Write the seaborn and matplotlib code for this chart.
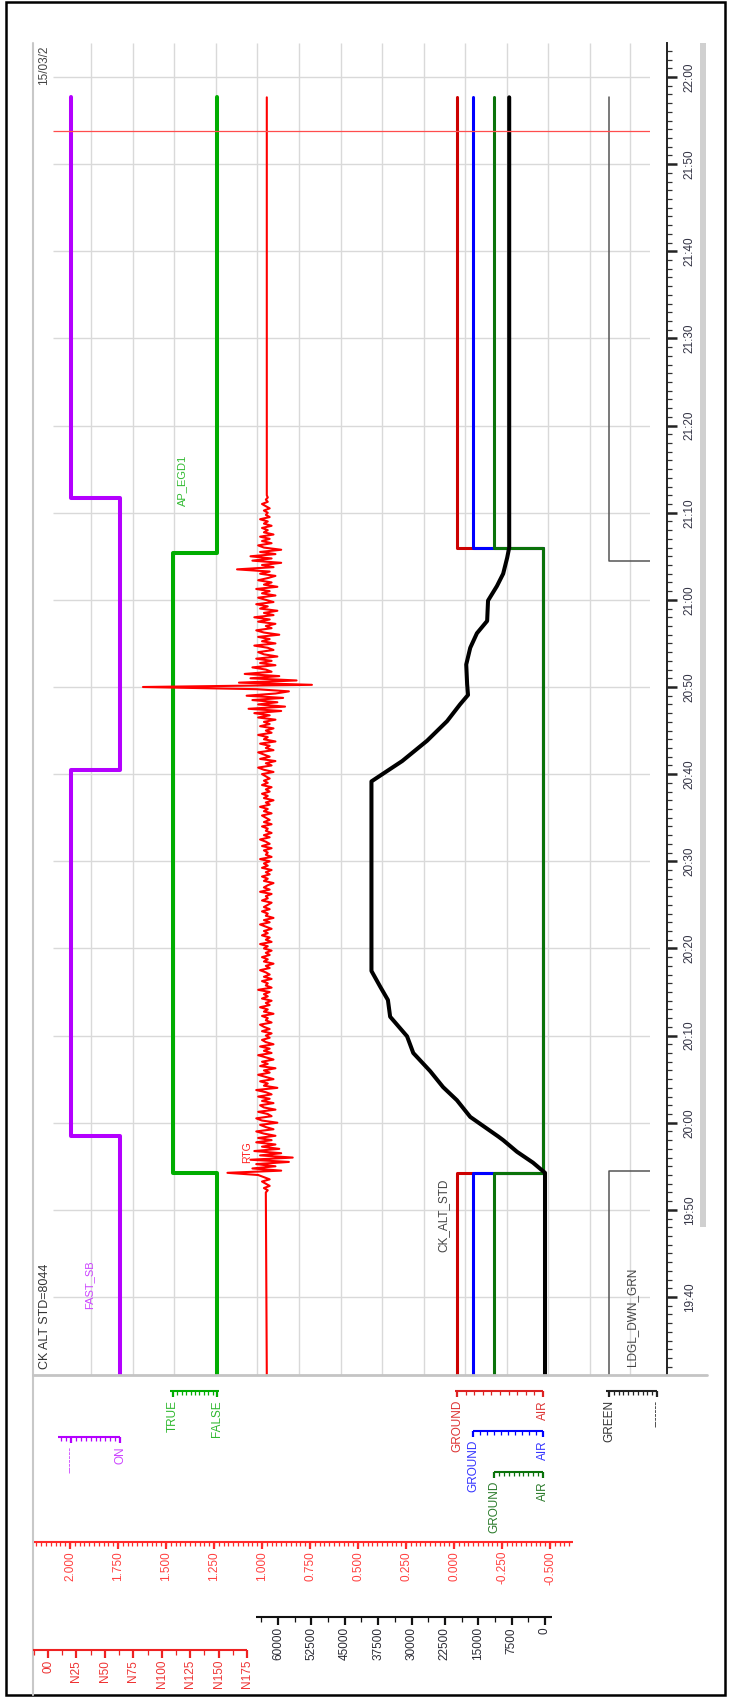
import numpy as np
import pandas as pd
import seaborn as sns
import matplotlib
matplotlib.use("Agg")
import matplotlib.pyplot as plt
from matplotlib.patches import Rectangle
from matplotlib.ticker import MultipleLocator

sns.set_theme(style="white")
plt.rcParams['font.family'] = ['Liberation Sans', 'DejaVu Sans']

#---------------------------------------------------------------- data
# state traces: value holds from each time to the next one
fast_sb_t = ["19:31:00", "19:58:30", "20:40:30", "21:11:40", "21:57:40"]
fast_sb_v = [1, 0, 1, 0, 0]          # 1 = ON

ap_egd1_t = ["19:31:00", "19:54:15", "21:05:20", "21:57:40"]
ap_egd1_v = [0, 1, 0, 0]              # 1 = TRUE

wow_t = ["19:31:00", "19:54:15", "21:06:00", "21:57:40"]
wow_red_v = [1, 0, 1, 1]              # 1 = GROUND
wow_blue_v = [1, 0, 1, 1]
wow_green_v = [1, 0, 1, 1]

ldg_t = ["19:31:00", "19:54:25", "21:04:30", "21:57:40"]
ldg_v = [1, 0, 1, 1]                  # 1 = GREEN

# CK_ALT_STD (ft)
alt_t = ["19:31:00", "19:54:15", "19:55:25", "19:56:40", "19:58:00", "19:58:25",
         "20:00:40", "20:02:35", "20:04:05", "20:05:55", "20:08:00", "20:09:55",
         "20:12:10", "20:14:05", "20:15:35", "20:17:25", "20:39:10", "20:41:30",
         "20:43:50", "20:46:05", "20:48:00", "20:49:05", "20:50:20", "20:52:35",
         "20:54:30", "20:56:10", "20:57:35", "20:59:55", "21:01:35", "21:03:00",
         "21:04:50", "21:06:00", "21:57:40"]
alt_ft = [0, 0, 2700, 6300, 9400, 10500,
          16800, 19800, 22900, 25800, 29600, 31000,
          34800, 35300, 37000, 39000, 39000, 32100,
          26500, 22000, 19100, 17300, 17500, 17700,
          16800, 15300, 13000, 12800, 10800, 9400,
          8500, 8044, 8044]

# RTG, sampled every 15 s from 19:52:00, flat outside
rtg_first = "19:52:00"
rtg_ends = ["19:31:00", "21:57:40"]
rtg_base = 0.975
rtg_vals = [
    0.98, 0.97, 0.99, 0.96, 0.98, 1.00, 0.96, 0.99,
    1.02, 1.18, 0.90, 1.05, 0.93, 1.03, 0.86, 1.06, 0.84, 1.01, 0.90, 1.04, 0.91, 1.00, 0.93, 1.03,
    0.95, 1.02, 0.93, 0.99, 1.03, 0.94, 0.98, 1.01, 0.92, 1.00, 1.03, 0.95, 0.97, 1.02, 0.93, 0.99,
    1.01, 0.94, 1.00, 0.96, 1.02, 0.95, 0.98, 1.03, 0.92, 0.99, 0.97, 1.01, 0.94, 0.98, 1.02, 0.96,
    0.99, 0.93, 1.01, 0.97, 1.00, 0.94, 0.98, 1.02, 0.95, 0.99, 0.96, 1.01, 0.94, 0.98, 1.00, 0.96,
    0.98, 0.95, 1.00, 0.96, 0.99, 1.01, 0.95, 0.98, 0.97, 1.00, 0.94, 0.99, 0.97, 1.01, 0.96, 0.98,
    0.95, 1.00, 0.97, 0.99, 0.96, 1.02, 0.95, 0.98, 0.97, 1.00, 0.95, 0.99, 0.96, 0.98, 1.01, 0.96,
    0.98, 0.94, 0.99, 0.97, 1.00, 0.96, 0.98, 0.95, 0.99, 0.97, 1.01, 0.95, 0.98, 0.96, 1.00, 0.97,
    0.99, 0.95, 0.98, 1.01, 0.96, 0.99, 0.94, 0.98, 0.97, 1.00, 0.96, 0.99, 0.97, 0.95, 1.00, 0.97,
    0.98, 0.95, 1.01, 0.96, 0.99, 0.97, 0.94, 0.99, 0.97, 1.00, 0.96, 0.98, 0.95, 1.00, 0.97, 0.99,
    0.96, 1.01, 0.95, 0.98, 0.97, 0.99, 0.95, 1.00, 0.96, 0.98, 1.01, 0.96, 0.99, 0.95, 0.98, 0.97,
    1.00, 0.95, 0.99, 0.96, 0.98, 1.00, 0.95, 0.99, 0.97, 1.01, 0.96, 0.98, 0.94, 0.99, 0.97, 1.00,
    0.96, 0.98, 0.95, 1.00, 0.97, 0.99, 0.96, 0.98,
    1.00, 0.94, 0.99, 1.02, 0.95, 0.98, 0.93, 1.01, 0.96, 0.99, 1.02, 0.94, 0.98, 0.96, 1.01, 0.93,
    0.99, 0.97, 1.02, 0.95, 0.98, 0.94, 1.01, 0.96, 0.99, 0.93, 1.02, 0.96,
    1.04, 0.90, 1.07, 0.88, 1.02, 0.92, 1.05, 0.89, 1.08, 0.93, 0.86, 1.03, 1.62, 0.74, 1.12, 0.82,
    1.06, 0.91, 1.09, 0.95,
    0.98, 1.05, 0.93, 1.01, 0.95, 1.03, 0.92, 0.99, 1.02, 0.94, 0.97, 1.04, 0.93, 1.00, 0.96, 1.02,
    0.91, 0.99, 1.03, 0.95, 0.98, 0.93, 1.02, 0.96, 1.04, 0.94, 0.99, 0.92, 1.01, 0.97, 1.03, 0.94,
    0.98, 1.02, 0.93, 1.00, 0.96, 1.03, 0.92, 0.99, 0.95, 1.02, 0.97, 0.93, 1.01, 0.96, 1.13, 0.94,
    1.00, 0.90, 1.05, 0.95,
    1.06, 0.93, 1.01, 0.90, 0.99, 1.02, 0.95, 1.00, 0.96, 1.01, 0.94, 0.99, 0.97, 1.00, 0.95, 0.99,
    0.97, 1.01, 0.96, 0.98, 0.97, 0.99, 0.96, 0.98, 1.00, 0.97, 0.98, 0.97, 0.975]

cursor_t = "21:53:45"

# scale legends
rtg_ticks = [2.0, 1.75, 1.5, 1.25, 1.0, 0.75, 0.5, 0.25, 0.0, -0.25, -0.5]
alt_ticks = [60000, 52500, 45000, 37500, 30000, 22500, 15000, 7500, 0]
n_ticks = [0, 25, 50, 75, 100, 125, 150, 175]
n_labels = ["00", "N25", "N50", "N75", "N100", "N125", "N150", "N175"]

#---------------------------------------------------------------- layout
W, H = 731, 1700
PX_MIN = 1220 / 140.0                 # pixels per minute on time axis
T_TOP = 22 * 60 + 34 / PX_MIN         # time at y = 43 px
T_BOT = 22 * 60 - 1298 / PX_MIN       # time at y = 1375 px

def to_min(s):
    return np.asarray(pd.to_timedelta(s).total_seconds(), float) / 60.0

def lin(v, va, xa, vb, xb):
    return xa + (np.asarray(v, float) - va) * (xb - xa) / (vb - va)

# value -> horizontal pixel for each track
fast_x = lambda v: lin(v, 0, 71, 1, 120)
ap_x = lambda v: lin(v, 0, 217, 1, 173)
red_x = lambda v: lin(v, 0, 543, 1, 457)
blue_x = lambda v: lin(v, 0, 543, 1, 473)
dgrn_x = lambda v: lin(v, 0, 543, 1, 494)
ldg_x = lambda v: lin(v, 0, 657, 1, 609)
rtg_x = lambda v: lin(v, 2.0, 70, -0.5, 550)
alt_x = lambda v: lin(v, 0, 545, 60000, 278)
n_x = lambda v: lin(v, 0, 48, 175, 247)

def rect(x0, y0, x1, y1):
    return [x0 / W, 1 - y1 / H, (x1 - x0) / W, (y1 - y0) / H]

fig = plt.figure(figsize=(W / 100, H / 100), dpi=100)

ax = fig.add_axes(rect(33, 43, 650, 1375))
ax.set_axis_off()

grid_x = [91, 133, 174, 216, 257, 299, 341, 382, 424, 465, 507, 548, 590, 630]
grid_t = np.arange(19 * 60 + 40, 22 * 60 + 1, 10)
ax.vlines(grid_x, T_BOT, T_TOP, color='#d9d9d9', lw=1.0, zorder=0.5)
ax.hlines(grid_t, 53, 650, color='#d9d9d9', lw=1.0, zorder=0.5)

def trace(xs, ts, color, lw, steps=False, z=2):
    kw = {'drawstyle': 'steps-pre'} if steps else {}
    sns.lineplot(x=np.asarray(xs, float), y=np.asarray(ts, float), sort=False,
                 estimator=None, color=color, linewidth=lw, ax=ax, zorder=z, **kw)

trace(fast_x(fast_sb_v), to_min(fast_sb_t), '#b400ff', 2.9, True)
trace(ap_x(ap_egd1_v), to_min(ap_egd1_t), '#00ad00', 2.9, True)

rtg_t = np.concatenate([to_min(rtg_ends[:1]),
                        to_min(rtg_first) + np.arange(len(rtg_vals)) * 0.25,
                        to_min(rtg_ends[1:])])
rtg_v = [rtg_base] + rtg_vals + [rtg_base]
trace(rtg_x(rtg_v), rtg_t, '#ff0000', 1.5)

trace(red_x(wow_red_v), to_min(wow_t), '#cc0000', 2.2, True, 2.1)
trace(blue_x(wow_blue_v), to_min(wow_t), '#0000ff', 2.2, True, 2.2)
trace(dgrn_x(wow_green_v), to_min(wow_t), '#0a720a', 2.2, True, 2.3)
trace(alt_x(alt_ft), to_min(alt_t), '#000000', 2.9, False, 2.5)
trace(ldg_x(ldg_v), to_min(ldg_t), '#555555', 1.1, True)

ax.hlines(to_min(cursor_t), 53, 650, color='#ff4d4d', lw=0.9, zorder=3)
ax.set_xlim(33, 650)
ax.set_ylim(T_BOT, T_TOP)

# time axis
tax = fig.add_axes(rect(650, 43, 667, 1375))
tax.set_ylim(T_BOT, T_TOP)
tax.patch.set_alpha(0)
for s in ['left', 'top', 'bottom']:
    tax.spines[s].set_visible(False)
tax.spines['right'].set_color('#222222')
tax.spines['right'].set_linewidth(1.4)
tax.set_xticks([])
tax.yaxis.tick_right()
tax.set_yticks(grid_t)
tax.set_yticklabels(["%d:%02d" % (m // 60, m % 60) for m in grid_t],
                    rotation=90, va='center', ha='left')
tax.yaxis.set_minor_locator(MultipleLocator(1))
tax.tick_params(axis='y', which='major', right=True, length=7, width=1.8,
                color='#222222', labelsize=8.5, labelcolor='#333344', pad=5)
tax.tick_params(axis='y', which='minor', right=True, length=3.5, width=0.9,
                color='#333333')

#---------------------------------------------------------------- overlay: frame, labels, scales
fax = fig.add_axes([0, 0, 1, 1])
fax.set_xlim(0, W)
fax.set_ylim(H, 0)
fax.set_axis_off()
fax.patch.set_alpha(0)

fax.add_patch(Rectangle((6, 2), 719, 1693, fill=False, ec='black', lw=1.8))
fax.add_patch(Rectangle((700, 43), 6, 1184, color='#d0d0d0', lw=0))
fax.plot([33, 33], [43, 1695], color='#c8c8c8', lw=1.5)
fax.plot([33, 707], [1375, 1375], color='#c4c4c4', lw=2.0)

def txt(x, y, s, color, fs=8.5):
    fax.text(x, y, s, rotation=90, ha='center', va='center', color=color, fontsize=fs)

txt(44, 65, "15/03/2", '#444444')
txt(45, 1316, "CK ALT STD=8044", '#333333', 9)
txt(89, 1285, "FAST_SB", '#cc44ff', 8)
txt(182, 480, "AP_EGD1", '#33bb33', 8)
txt(247, 1152, "RTG", '#ff2020', 7.5)
txt(443, 1215, "CK_ALT_STD", '#444444', 8.5)
txt(632, 1317, "LDGL_DWN_GRN", '#444444', 8.5)

def scale(y, x0, x1, minor_x, major_x, labels, color, lab_color,
          mlen=8, nlen=4, gap=2, fs=8.5):
    fax.plot([x0, x1], [y, y], color=color, lw=1.5, solid_capstyle='butt')
    fax.vlines(minor_x, y, y + nlen, color=color, lw=0.9)
    fax.vlines(major_x, y, y + mlen, color=color, lw=1.6)
    for xm, lab in zip(major_x, labels):
        fax.text(xm, y + mlen + gap, lab, rotation=90, ha='center', va='top',
                 color=lab_color, fontsize=fs)

def state_scale(y, fx, lo, hi, labels, color, lab_color):
    minors = np.round(np.arange(-0.2, 1.0, 0.1), 2)
    minors = minors[(minors > lo) & (minors < hi) & (minors != 0)]
    scale(y, float(fx(lo)), float(fx(hi)), fx(minors), fx([0, 1]), labels,
          color, lab_color, mlen=6, nlen=3.5, gap=3)

state_scale(1437, fast_x, -0.27, 1.0, ["-------", "ON"], '#b400ff', '#cc44ff')
state_scale(1391, ap_x, -0.05, 1.07, ["FALSE", "TRUE"], '#00ad00', '#2eb82e')
state_scale(1391, red_x, 0.0, 1.02, ["AIR", "GROUND"], '#dd2222', '#dd3333')
state_scale(1431, blue_x, 0.0, 1.0, ["AIR", "GROUND"], '#0000ff', '#3333ff')
state_scale(1472, dgrn_x, 0.0, 1.0, ["AIR", "GROUND"], '#0a720a', '#2a7a2a')
state_scale(1391, ldg_x, 0.0, 1.06, ["-------", "GREEN"], '#222222', '#333333')

rtg_minor = np.arange(-0.6, 2.19, 0.025)
scale(1542, float(rtg_x(2.19)), float(rtg_x(-0.62)), rtg_x(rtg_minor), rtg_x(rtg_ticks),
      ["%.3f" % v for v in rtg_ticks], '#ff2a2a', '#ff4040', mlen=7, nlen=3.5)

alt_minor = np.arange(3750, 64000, 7500)
scale(1617, float(alt_x(64900)), float(alt_x(-1570)), alt_x(alt_minor), alt_x(alt_ticks),
      [str(v) for v in alt_ticks], '#111111', '#2a2a33', mlen=8, nlen=5)

n_minor = np.arange(-12.5, 175, 25)
scale(1650, float(n_x(-13)), float(n_x(175)), n_x(n_minor), n_x(n_ticks),
      n_labels, '#ee2222', '#ee3333', mlen=8, nlen=5)

fig.savefig("out.png", dpi=100)
